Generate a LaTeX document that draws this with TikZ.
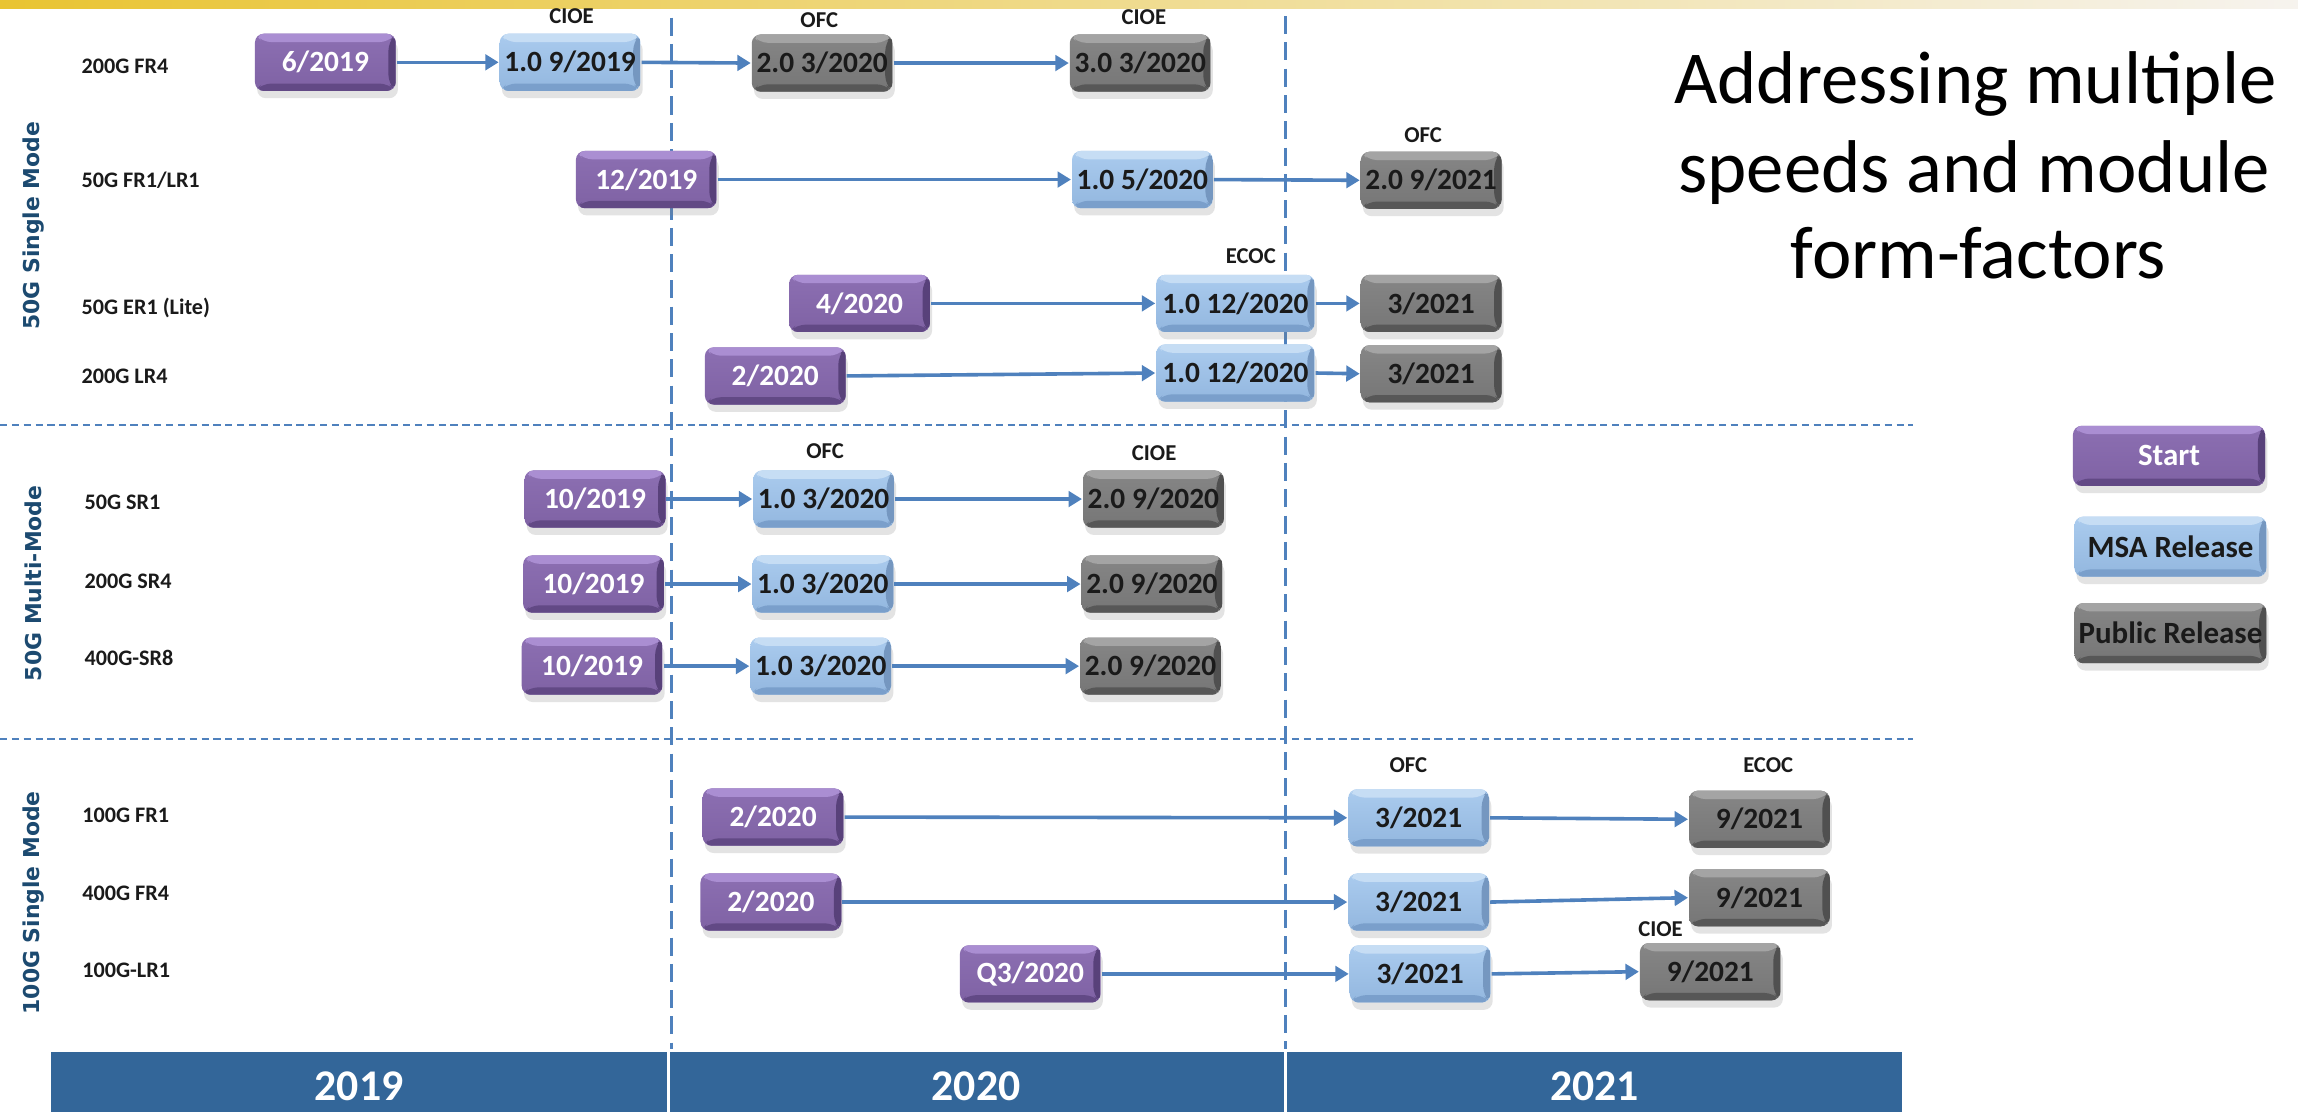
\documentclass[tikz,border=0pt]{standalone}
\usepackage{fontspec}
\setmainfont{Carlito}
\newfontfamily\grpfont{DejaVu Sans}
\usetikzlibrary{arrows.meta,shadows}

% palette
\definecolor{grpblue}{HTML}{1C4A70}
\definecolor{arrblue}{HTML}{4F81BD}
\definecolor{yearblue}{HTML}{336699}
\definecolor{goldA}{HTML}{E9C432}
\definecolor{goldB}{HTML}{F0DE98}
\definecolor{goldC}{HTML}{F6F3EE}
\definecolor{pHi}{HTML}{8C6FB2}
\definecolor{pMain}{HTML}{7F62A4}
\definecolor{pTop}{HTML}{AA8ED2}
\definecolor{pBot}{HTML}{624985}
\definecolor{pSide}{HTML}{58417A}
\definecolor{bHi}{HTML}{AACBEE}
\definecolor{bMain}{HTML}{93B7DF}
\definecolor{bTop}{HTML}{C6DDF4}
\definecolor{bBot}{HTML}{7A9FCB}
\definecolor{bSide}{HTML}{7597C0}
\definecolor{gHi}{HTML}{868686}
\definecolor{gMain}{HTML}{767676}
\definecolor{gTop}{HTML}{A4A4A4}
\definecolor{gBot}{HTML}{575757}
\definecolor{gSide}{HTML}{505050}
\definecolor{ink}{HTML}{1A1A1A}

\begin{document}
\begin{tikzpicture}[x=0.01cm,y=-0.01cm,
  bevel/.style n args={5}{top color=#1, bottom color=#2, path picture={
    \fill[#3] (path picture bounding box.north west) -- (path picture bounding box.north east)
      -- ([xshift=-0.5mm,yshift=-0.57mm]path picture bounding box.north east)
      -- ([xshift=0.5mm,yshift=-0.57mm]path picture bounding box.north west) -- cycle;
    \fill[#4] (path picture bounding box.south west) -- (path picture bounding box.south east)
      -- ([xshift=-0.5mm,yshift=0.5mm]path picture bounding box.south east)
      -- ([xshift=0.5mm,yshift=0.5mm]path picture bounding box.south west) -- cycle;
    \fill[#5] (path picture bounding box.north east) -- (path picture bounding box.south east)
      -- ([xshift=-0.5mm,yshift=0.5mm]path picture bounding box.south east)
      -- ([xshift=-0.5mm,yshift=-0.57mm]path picture bounding box.north east) -- cycle;
  }},
  boxbase/.style={rounded corners=0.6mm, minimum width=0.96cm, minimum height=0.39cm,
    inner sep=0pt, font=\fontsize{5.7}{6}\selectfont\bfseries,
    drop shadow={shadow xshift=0.15mm, shadow yshift=-0.5mm, opacity=0.22}},
  startbox/.style={boxbase, bevel={pHi}{pMain}{pTop}{pBot}{pSide}, text=white},
  msabox/.style={boxbase, bevel={bHi}{bMain}{bTop}{bBot}{bSide}, text=ink},
  pubbox/.style={boxbase, bevel={gHi}{gMain}{gTop}{gBot}{gSide}, text=ink},
  lgnd/.style={minimum width=1.31cm, minimum height=0.41cm, font=\fontsize{6}{7}\selectfont\bfseries},
  rowlbl/.style={anchor=west, inner sep=0pt, text=ink, font=\fontsize{4.3}{5}\selectfont\bfseries},
  evt/.style={inner sep=0pt, text=ink, font=\fontsize{4.4}{5}\selectfont\bfseries},
  grp/.style={rotate=90, inner sep=0pt, text=grpblue, font=\grpfont\bfseries\fontsize{4.25}{5}\selectfont},
  arr/.style={draw=arrblue, line width=0.7pt, -{Triangle[length=2.6pt,width=3pt]}},
  vdash/.style={draw=arrblue, line width=0.6pt, dash pattern=on 3.5pt off 1.6pt},
  hdash/.style={draw=arrblue, line width=0.45pt, dash pattern=on 1.4pt off 0.9pt},
  yeartxt/.style={text=white, inner sep=0pt, font=\fontsize{8.5}{9}\selectfont\bfseries},
  title/.style={anchor=base, inner sep=0pt, text=black, font=\fontsize{14.5}{17}\selectfont}
]
\useasboundingbox (0,0) rectangle (1568,759);
\fill[white] (0,0) rectangle (1568,759);

% header strip
\shade[left color=goldA, middle color=goldB, right color=goldC] (0,0) rectangle (1568,5.5);

% grid: year boundaries and group separators
\draw[vdash] (458,12) -- (458,716);
\draw[vdash] (877,11) -- (877,716);
\draw[hdash] (0,290) -- (1305,290);
\draw[hdash] (0,504) -- (1305,504);

% year bar
\fill[yearblue] (35,718) rectangle (1298,759);
\draw[white, line width=0.5pt] (456,718) -- (456,759);
\draw[white, line width=0.5pt] (877,718) -- (877,759);
\node[yeartxt] (y19) at (245,741) {2019};
\node[yeartxt] (y20) at (666,741) {2020};
\node[yeartxt] (y21) at (1088,741) {2021};

% group labels
\node[grp] (g1) at (23,154) {50G Single Mode};
\node[grp] (g2) at (23,398) {50G Multi-Mode};
\node[grp] (g3) at (23,616) {100G Single Mode};

% row labels
\node[rowlbl] (r1) at (55,45) {200G FR4};
\node[rowlbl] (r2) at (55,123) {50G FR1/LR1};
\node[rowlbl] (r3) at (55,210) {50G ER1 (Lite)};
\node[rowlbl] (r4) at (55,257) {200G LR4};
\node[rowlbl] (r5) at (57,343) {50G SR1};
\node[rowlbl] (r6) at (57,396.5) {200G SR4};
\node[rowlbl] (r7) at (57,449) {400G-SR8};
\node[rowlbl] (r8) at (55.5,556) {100G FR1};
\node[rowlbl] (r9) at (55.5,609.5) {400G FR4};
\node[rowlbl] (r10) at (55.5,662) {100G-LR1};

% title
\node[title] (t1) at (1348,70.5) {Addressing multiple};
\node[title] (t2) at (1347,131) {speeds and module};
\node[title] (t3) at (1350,190) {form-factors};

% 200G FR4
\node[startbox] (s1) at (222,42.5) {6/2019};
\node[msabox] (m1) at (389,42.5) {1.0 9/2019};
\node[pubbox] (p1a) at (561,43) {2.0 3/2020};
\node[pubbox] (p1b) at (778,43) {3.0 3/2020};
\node[evt] (e1) at (390,11) {CIOE};
\node[evt] (e2) at (559,14) {OFC};
\node[evt] (e3) at (780.5,11.5) {CIOE};
\draw[arr] (s1.east) -- (m1.west);
\draw[arr] (m1.east) -- (p1a.west);
\draw[arr] (p1a.east) -- (p1b.west);

% 50G FR1/LR1
\node[startbox] (s2) at (441,122.5) {12/2019};
\node[msabox] (m2) at (779.5,122.5) {1.0 5/2020};
\node[pubbox] (p2) at (976.5,123) {2.0 9/2021};
\node[evt] (e4) at (971,92) {OFC};
\draw[arr] (s2.east) -- (m2.west);
\draw[arr] (m2.east) -- (p2.west);

% 50G ER1 (Lite)
\node[startbox] (s3) at (586.5,207) {4/2020};
\node[msabox, minimum width=1.08cm] (m3) at (843,207) {1.0 12/2020};
\node[pubbox] (p3) at (976.5,207) {3/2021};
\node[evt] (e5) at (853.5,175) {ECOC};
\draw[arr] (s3.east) -- (m3.west);
\draw[arr] (m3.east) -- (p3.west);

% 200G LR4
\node[startbox] (s4) at (529,256.5) {2/2020};
\node[msabox, minimum width=1.08cm] (m4) at (843,254.5) {1.0 12/2020};
\node[pubbox] (p4) at (976.5,255) {3/2021};
\draw[arr] (s4.east) -- (m4.west);
\draw[arr] (m4.east) -- (p4.west);

% 50G SR1
\node[startbox] (s5) at (406,340.5) {10/2019};
\node[msabox] (m5) at (562,340.5) {1.0 3/2020};
\node[pubbox] (p5) at (787,340.5) {2.0 9/2020};
\node[evt] (e6) at (563,307.5) {OFC};
\node[evt] (e7) at (787.5,309) {CIOE};
\draw[arr] (s5.east) -- (m5.west);
\draw[arr] (m5.east) -- (p5.west);

% 200G SR4
\node[startbox] (s6) at (405,398.5) {10/2019};
\node[msabox] (m6) at (561.5,398.5) {1.0 3/2020};
\node[pubbox] (p6) at (786,398.5) {2.0 9/2020};
\draw[arr] (s6.east) -- (m6.west);
\draw[arr] (m6.east) -- (p6.west);

% 400G-SR8
\node[startbox] (s7) at (404,454.5) {10/2019};
\node[msabox] (m7) at (560,454.5) {1.0 3/2020};
\node[pubbox] (p7) at (785,454.5) {2.0 9/2020};
\draw[arr] (s7.east) -- (m7.west);
\draw[arr] (m7.east) -- (p7.west);

% 100G FR1
\node[startbox] (s8) at (527.5,557.5) {2/2020};
\node[msabox] (m8) at (968,558) {3/2021};
\node[pubbox] (p8) at (1200.5,559) {9/2021};
\node[evt] (e8) at (961,522) {OFC};
\node[evt] (e9) at (1206.5,522) {ECOC};
\draw[arr] (s8.east) -- (m8.west);
\draw[arr] (m8.east) -- (p8.west);

% 400G FR4
\node[startbox] (s9) at (526,615.5) {2/2020};
\node[msabox] (m9) at (968,615.5) {3/2021};
\node[pubbox] (p9) at (1200.5,612.5) {9/2021};
\draw[arr] (s9.east) -- (m9.west);
\draw[arr] (m9.east) -- (p9.west);

% 100G-LR1
\node[startbox] (s10) at (703,664.5) {Q3/2020};
\node[msabox] (m10) at (969,664.5) {3/2021};
\node[pubbox] (p10) at (1167,663) {9/2021};
\node[evt] (e10) at (1133,634) {CIOE};
\draw[arr] (s10.east) -- (m10.west);
\draw[arr] (m10.east) -- (p10.west);

% legend
\node[startbox, lgnd] (lg1) at (1480,311) {Start};
\node[msabox, lgnd] (lg2) at (1481,373) {MSA Release};
\node[pubbox, lgnd] (lg3) at (1481,432) {Public Release};
\end{tikzpicture}
\end{document}
